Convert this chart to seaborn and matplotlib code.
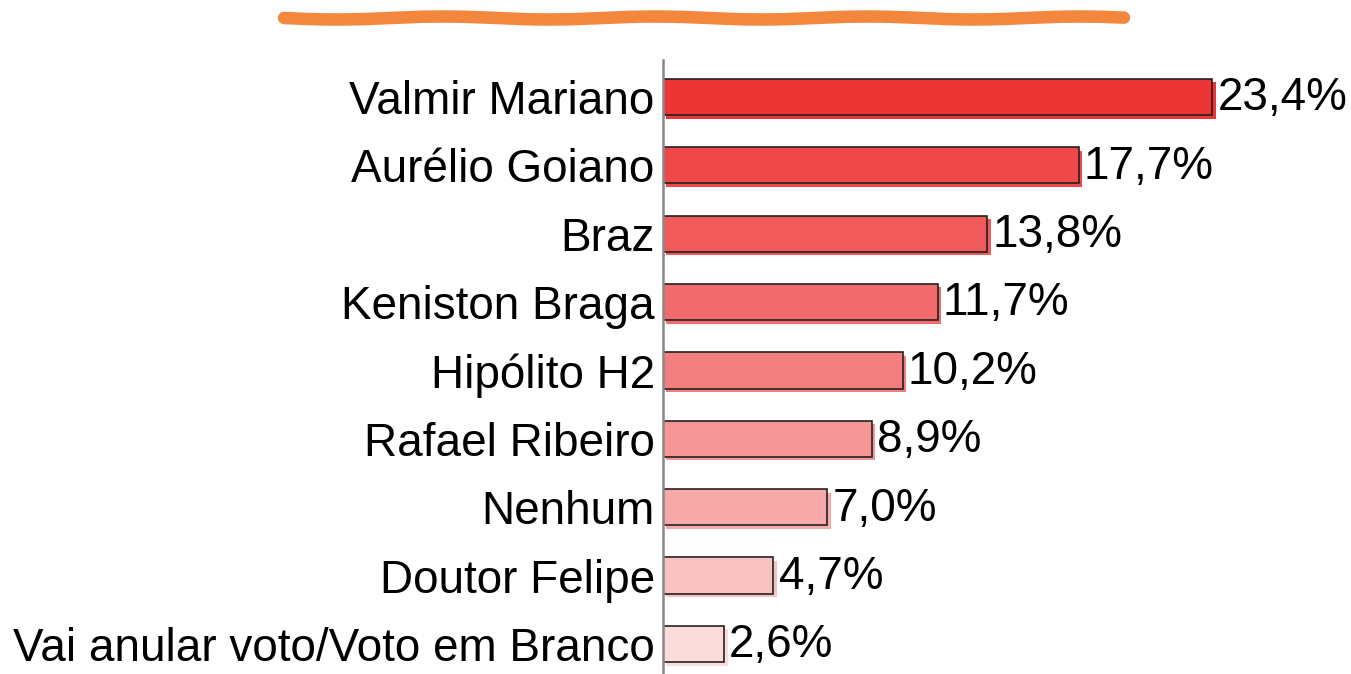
import numpy as np
import pandas as pd
import seaborn as sns
import matplotlib.pyplot as plt
import matplotlib.patheffects as pe
from matplotlib.lines import Line2D

candidatos = ['Valmir Mariano', 'Aurélio Goiano', 'Braz', 'Keniston Braga', 'Hipólito H2',
              'Rafael Ribeiro', 'Nenhum', 'Doutor Felipe', 'Vai anular voto/Voto em Branco']
percentuais = [23.4, 17.7, 13.8, 11.7, 10.2, 8.9, 7.0, 4.7, 2.6]
cores = ['#EE3536', '#F04848', '#F05A5B', '#F26B6C', '#F37E7F',
         '#F69596', '#F7A9AA', '#F9C2C2', '#FCDCDB']

df = pd.DataFrame({'Candidato': candidatos, 'Percentual': percentuais})

sns.set_style('white')
plt.rcParams['font.family'] = ['Liberation Sans', 'DejaVu Sans']
plt.rcParams['text.color'] = 'black'
plt.rcParams['ytick.color'] = 'black'

fig = plt.figure(figsize=(13.51, 6.74), dpi=100)
ax = fig.add_axes([663 / 1351, 0, 1 - 663 / 1351, 614 / 674])

sns.barplot(data=df, x='Percentual', y='Candidato', hue='Candidato', palette=cores,
            saturation=1, legend=False, width=0.53, edgecolor='#222222', linewidth=1.2, ax=ax)

for patch, cor in zip(ax.patches, cores):
    patch.set_path_effects([pe.SimplePatchShadow(offset=(2.5, -2.5), shadow_rgbFace=cor, alpha=1),
                            pe.Normal()])

for i, v in enumerate(percentuais):
    ax.text(v + 0.22, i + 0.02, f'{v:.1f}%'.replace('.', ','), va='center', ha='left',
            fontsize=33, color='black')

ax.set_xlim(0, 29.3)
ax.set_ylim(8.44, -0.54)
ax.set_xlabel('')
ax.set_ylabel('')
ax.set_xticks([])
ax.tick_params(axis='y', length=0, labelsize=33, pad=6, labelcolor='black')
for s in ['top', 'right', 'bottom']:
    ax.spines[s].set_visible(False)
ax.spines['left'].set_color('#888888')
ax.spines['left'].set_linewidth(1.8)

# traço laranja decorativo no topo
xs = np.linspace(284 / 1351, 1124 / 1351, 200)
ys = 1 - (18 + 1.5 * np.sin((xs - xs[0]) * 40)) / 674
fig.add_artist(Line2D(xs, ys, color='#F2873D', linewidth=9, solid_capstyle='round',
                      transform=fig.transFigure))

plt.savefig('out.png', dpi=100)
